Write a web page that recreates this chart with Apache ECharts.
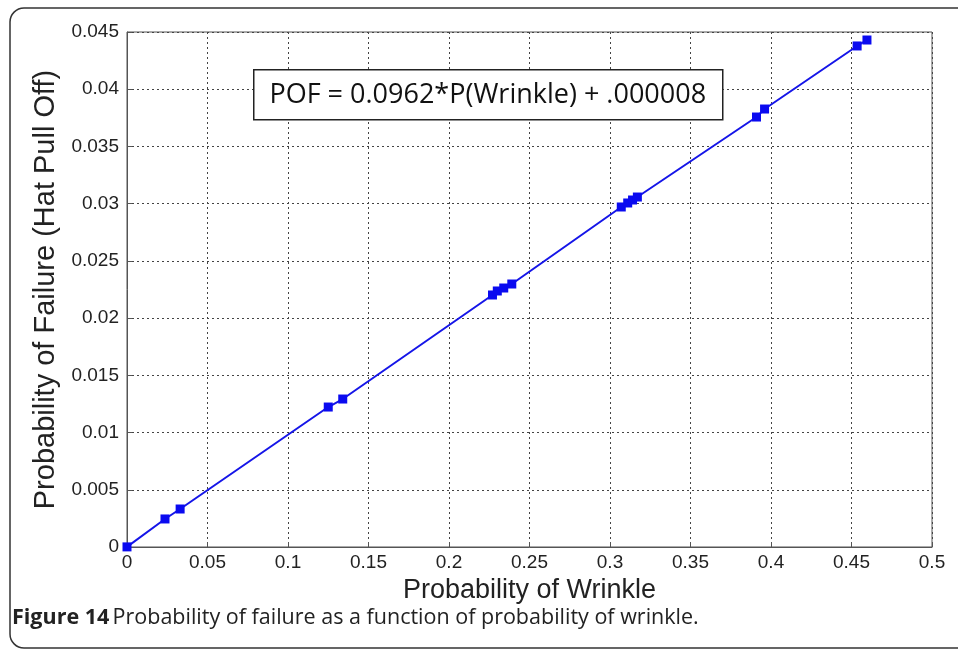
<!DOCTYPE html>
<html>
<head>
<meta charset="utf-8">
<script src="https://cdn.jsdelivr.net/npm/echarts@6/dist/echarts.min.js"></script>
<style>
  html, body { margin: 0; padding: 0; background: #fff; }
  #chart { width: 958px; height: 651px; }
</style>
</head>
<body>
<div id="chart"></div>
<script>
// values
var pWrinkle = [0, 0.0236, 0.033, 0.125, 0.134, 0.227, 0.230, 0.234, 0.239,
                0.307, 0.311, 0.314, 0.317, 0.391, 0.396, 0.4535, 0.4596];
var pFailure = [0.00001, 0.00245, 0.00332, 0.01223, 0.01293, 0.02202, 0.02237, 0.02263, 0.02298,
                0.02971, 0.03006, 0.03032, 0.03058, 0.03757, 0.03827, 0.04378, 0.0443];
var xTicks = [0, 0.05, 0.1, 0.15, 0.2, 0.25, 0.3, 0.35, 0.4, 0.45, 0.5];
var yTicks = [0, 0.005, 0.01, 0.015, 0.02, 0.025, 0.03, 0.035, 0.04, 0.045];

var points = pWrinkle.map(function (x, i) { return [x, pFailure[i]]; });

var myChart = echarts.init(document.getElementById('chart'));
var axisFont = 'Liberation Sans, Arial, sans-serif';

myChart.setOption({
    animation: false,
    grid: {
        left: 127, right: 26, top: 32, bottom: 104,
        show: true, borderColor: '#555', borderWidth: 1
    },
    xAxis: {
        type: 'value',
        min: xTicks[0], max: xTicks[xTicks.length - 1], interval: 0.05,
        name: 'Probability of Wrinkle',
        nameLocation: 'middle',
        nameGap: 30,
        nameTextStyle: { fontFamily: axisFont, fontSize: 27, color: '#222' },
        axisLine: { lineStyle: { color: '#555' } },
        axisTick: { inside: true, length: 5, lineStyle: { color: '#555' } },
        axisLabel: {
            fontFamily: axisFont, fontSize: 19, color: '#222', margin: 6,
            formatter: function (v) { return String(+v.toFixed(3)); }
        },
        splitLine: { lineStyle: { color: '#444', type: [2, 3], width: 1 } }
    },
    yAxis: {
        type: 'value',
        min: yTicks[0], max: yTicks[yTicks.length - 1], interval: 0.005,
        name: 'Probability of Failure (Hat Pull Off)',
        nameLocation: 'middle',
        nameGap: 67,
        nameTextStyle: { fontFamily: axisFont, fontSize: 29, color: '#222' },
        axisLine: { show: true, lineStyle: { color: '#555' } },
        axisTick: { show: true, inside: true, length: 5, lineStyle: { color: '#555' } },
        axisLabel: {
            fontFamily: axisFont, fontSize: 19, color: '#222', margin: 8,
            formatter: function (v) { return String(+v.toFixed(4)); }
        },
        splitLine: { lineStyle: { color: '#444', type: [2, 3], width: 1 } }
    },
    series: [{
        type: 'line',
        data: points,
        symbol: 'rect',
        symbolSize: 9,
        lineStyle: { color: '#1515e8', width: 2 },
        itemStyle: { color: '#0a0af0' }
    }],
    graphic: [
        {
            type: 'rect',
            shape: { x: 10, y: 8, width: 970, height: 640, r: 14 },
            style: { fill: 'none', stroke: '#333', lineWidth: 1.5 },
            silent: true
        },
        {
            type: 'group',
            left: 253, top: 69,
            z: 100,
            children: [
                {
                    type: 'rect',
                    z: 100,
                    shape: { x: 0, y: 0, width: 469, height: 50 },
                    style: { fill: '#fff', stroke: '#222', lineWidth: 1.5 }
                },
                {
                    type: 'text',
                    z: 101,
                    x: 234, y: 26,
                    style: {
                        text: 'POF = 0.0962*P(Wrinkle) + .000008',
                        fontFamily: 'Open Sans, sans-serif', fontSize: 27,
                        fill: '#111', align: 'center', verticalAlign: 'middle'
                    }
                }
            ]
        },
        {
            type: 'text',
            left: 12, top: 607,
            style: {
                rich: {
                    b: { fontFamily: 'Open Sans, sans-serif', fontSize: 21.5, fontWeight: 'bold', fill: '#222' },
                    n: { fontFamily: 'Open Sans, sans-serif', fontSize: 21.5, fill: '#222' }
                },
                text: '{b|Figure 14} {n|Probability of failure as a function of probability of wrinkle.}'
            }
        }
    ]
});
</script>
</body>
</html>
